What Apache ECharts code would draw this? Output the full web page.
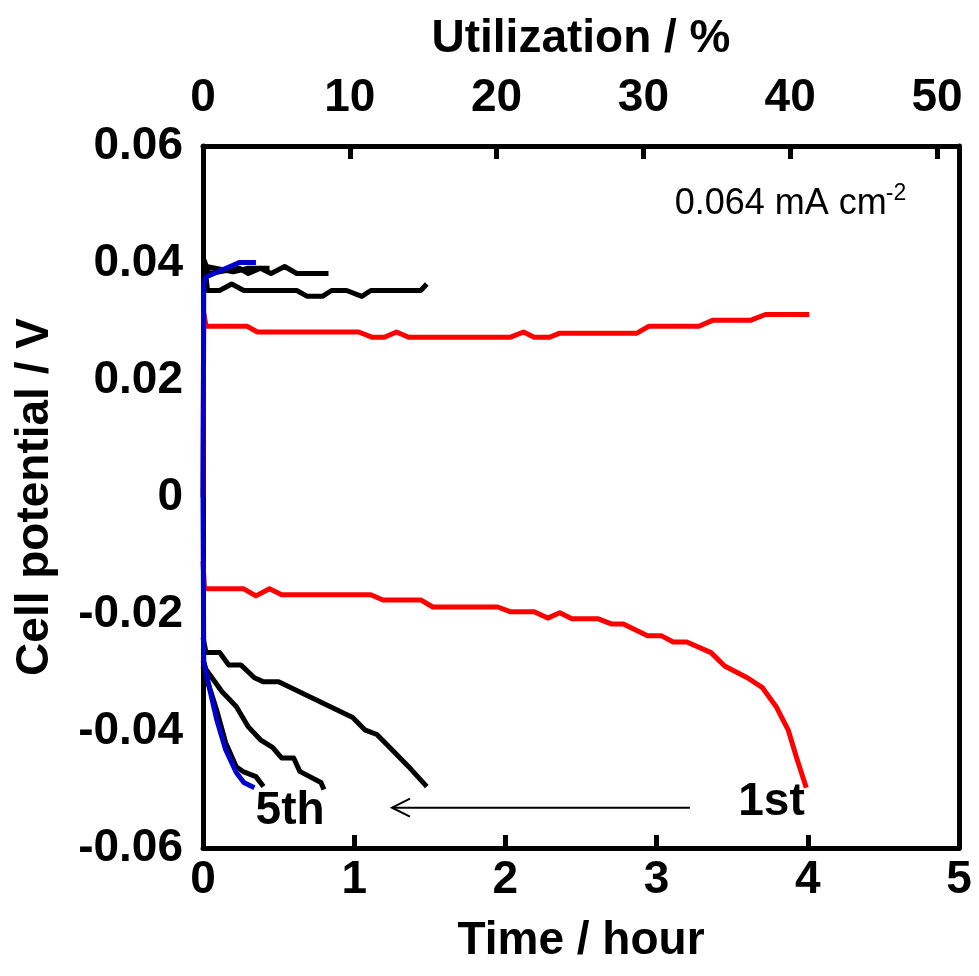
<!DOCTYPE html>
<html>
<head>
<meta charset="utf-8">
<script src="https://cdn.jsdelivr.net/npm/echarts@6/dist/echarts.min.js"></script>
<style>html,body{margin:0;padding:0;background:#fff;}#c{width:979px;height:976px;}</style>
</head>
<body>
<div id="c"></div>
<script>
// ---- data (time in hours, potential in V) ----
const timeTicks = [0, 1, 2, 3, 4, 5];
const utilTicks = [0, 10, 20, 30, 40, 50];
const potentialTicks = [-0.06, -0.04, -0.02, 0, 0.02, 0.04, 0.06];

const c1ChargeT = [0, 0.005, 0.02, 0.29, 0.36, 1.03, 1.12, 1.20, 1.28, 1.36, 2.03, 2.12, 2.19, 2.29, 2.36, 2.87, 2.95, 3.28, 3.37, 3.62, 3.72, 4.01];
const c1ChargeV = [0.0, 0.0315, 0.0292, 0.0292, 0.0282, 0.0282, 0.0273, 0.0273, 0.0282, 0.0273, 0.0273, 0.0282, 0.0273, 0.0273, 0.0280, 0.0280, 0.0292, 0.0292, 0.0302, 0.0302, 0.0312, 0.0312];
const c1DischT = [0, 0.01, 0.27, 0.35, 0.44, 0.52, 1.11, 1.19, 1.44, 1.52, 1.95, 2.03, 2.19, 2.28, 2.36, 2.44, 2.61, 2.70, 2.78, 2.94, 3.03, 3.11, 3.20, 3.36, 3.45, 3.60, 3.70, 3.79, 3.87, 3.93, 3.99];
const c1DischV = [-0.011, -0.0157, -0.0157, -0.0169, -0.0157, -0.0167, -0.0167, -0.0176, -0.0176, -0.0188, -0.0188, -0.0196, -0.0196, -0.0207, -0.0198, -0.0208, -0.0208, -0.0217, -0.0217, -0.0237, -0.0237, -0.0248, -0.0248, -0.0266, -0.0289, -0.0309, -0.0326, -0.0358, -0.0398, -0.0449, -0.0497];

const c2ChargeT = [0.007, 0.03, 0.11, 0.19, 0.27, 0.62, 0.69, 0.79, 0.85, 0.95, 1.05, 1.11, 1.44, 1.48];
const c2ChargeV = [0.0405, 0.0353, 0.0353, 0.0364, 0.0353, 0.0353, 0.0343, 0.0343, 0.0353, 0.0353, 0.0343, 0.0353, 0.0353, 0.0364];
const c2DischT = [0, 0.02, 0.11, 0.17, 0.25, 0.34, 0.40, 0.50, 0.99, 1.07, 1.15, 1.25, 1.36, 1.48];
const c2DischV = [-0.024, -0.0266, -0.0266, -0.0287, -0.0287, -0.0309, -0.0316, -0.0316, -0.0377, -0.0398, -0.0406, -0.0432, -0.0461, -0.0495];

const c3ChargeT = [0.007, 0.04, 0.24, 0.30, 0.38, 0.45, 0.54, 0.62, 0.83];
const c3ChargeV = [0.0405, 0.0382, 0.0391, 0.0382, 0.0391, 0.0382, 0.0394, 0.0382, 0.0382];
const c3DischT = [0, 0.02, 0.126, 0.22, 0.30, 0.38, 0.46, 0.52, 0.60, 0.64, 0.78, 0.80];
const c3DischV = [-0.028, -0.0295, -0.0333, -0.0358, -0.0393, -0.0415, -0.0428, -0.0446, -0.0446, -0.0469, -0.0488, -0.050];

const c4ChargeT = [0.005, 0.2, 0.3, 0.35, 0.44];
const c4ChargeV = [0.0395, 0.0385, 0.0391, 0.0391, 0.0391];
const c4DischT = [0, 0.09, 0.15, 0.22, 0.27, 0.35, 0.40];
const c4DischV = [-0.029, -0.0364, -0.042, -0.0461, -0.047, -0.0478, -0.0495];

const c5ChargeT = [0, 0.005, 0.02, 0.24, 0.35];
const c5ChargeV = [0, 0.0365, 0.0376, 0.0401, 0.0401];
const c5DischT = [0, 0.005, 0.04, 0.09, 0.15, 0.22, 0.27, 0.34];
const c5DischV = [0, -0.028, -0.0324, -0.038, -0.0432, -0.0471, -0.0488, -0.0497];

const zip = (a, b) => a.map((v, i) => [v, b[i]]);
const BOLD = "'Liberation Sans',Arial,sans-serif";
const PLAIN = "'Liberation Sans',Arial,sans-serif";

const chart = echarts.init(document.getElementById('c'), null, {renderer: 'canvas'});
function line(name, t, v, color) {
  return {name, type: 'line', data: zip(t, v), xAxisIndex: 0, yAxisIndex: 0,
    symbol: 'none', animation: false, lineStyle: {color, width: 5, join: 'round'}};
}
const axisTxt = {color: '#000', fontFamily: BOLD, fontWeight: 'bold', fontSize: 46};
const nameTxt = {color: '#000', fontFamily: BOLD, fontWeight: 'bold', fontSize: 46};
chart.setOption({
  backgroundColor: '#fff',
  animation: false,
  grid: {left: 203, right: 20, top: 146, bottom: 128, containLabel: false, outerBoundsMode: 'none'},
  xAxis: [
    {type: 'value', position: 'bottom', min: 0, max: 5, interval: 1,
     name: 'Time / hour', nameLocation: 'middle', nameGap: 70, nameMoveOverlap: false,
     nameTextStyle: nameTxt,
     axisLine: {show: true, onZero: false, lineStyle: {color: '#000', width: 5}},
     axisTick: {show: true, inside: true, length: 13, lineStyle: {color: '#000', width: 5}},
     axisLabel: Object.assign({margin: 9, customValues: timeTicks}, axisTxt),
     splitLine: {show: false}},
    {type: 'value', position: 'top', min: 0, max: 51.5,
     name: 'Utilization / %', nameLocation: 'middle', nameGap: 84, nameMoveOverlap: false,
     nameTextStyle: nameTxt,
     axisLine: {show: true, onZero: false, lineStyle: {color: '#000', width: 5}},
     axisTick: {show: true, inside: true, length: 13, customValues: utilTicks, lineStyle: {color: '#000', width: 5}},
     axisLabel: Object.assign({margin: 25, customValues: utilTicks}, axisTxt),
     splitLine: {show: false}}
  ],
  yAxis: [
    {type: 'value', position: 'left', min: -0.06, max: 0.06, interval: 0.02,
     name: 'Cell potential / V', nameLocation: 'middle', nameGap: 145, nameRotate: 90, nameMoveOverlap: false,
     nameTextStyle: nameTxt,
     axisLine: {show: true, onZero: false, lineStyle: {color: '#000', width: 5}},
     axisTick: {show: false},
     axisLabel: Object.assign({margin: 20, customValues: potentialTicks,
       formatter: v => Math.abs(v) < 1e-9 ? '0' : (Math.round(v * 100) / 100).toFixed(2)}, axisTxt),
     splitLine: {show: false}},
    {type: 'value', position: 'right', min: -0.06, max: 0.06,
     axisLine: {show: true, onZero: false, lineStyle: {color: '#000', width: 5}},
     axisTick: {show: false}, axisLabel: {show: false}, splitLine: {show: false}}
  ],
  series: [
    line('1st charge', c1ChargeT, c1ChargeV, '#ff0000'),
    line('1st discharge', c1DischT, c1DischV, '#ff0000'),
    line('2nd charge', c2ChargeT, c2ChargeV, '#000000'),
    line('2nd discharge', c2DischT, c2DischV, '#000000'),
    line('3rd charge', c3ChargeT, c3ChargeV, '#000000'),
    line('3rd discharge', c3DischT, c3DischV, '#000000'),
    line('4th charge', c4ChargeT, c4ChargeV, '#000000'),
    line('4th discharge', c4DischT, c4DischV, '#000000'),
    line('5th charge', c5ChargeT, c5ChargeV, '#0000cc'),
    line('5th discharge', c5DischT, c5DischV, '#0000cc')
  ]
});

// annotations placed through the axes' scales
const px = (t, v) => chart.convertToPixel({xAxisIndex: 0, yAxisIndex: 0}, [t, v]);
const aStart = px(3.22, -0.0531), aEnd = px(1.25, -0.0531);
const lab1 = px(3.76, -0.0522), lab5 = px(0.576, -0.0538);
const cur = px(3.12, 0.0500);
chart.setOption({
  graphic: [
    {type: 'line', shape: {x1: aStart[0], y1: aStart[1], x2: aEnd[0], y2: aEnd[1]}, style: {stroke: '#000', lineWidth: 2}},
    {type: 'polyline', shape: {points: [[aEnd[0] + 18, aEnd[1] - 9], [aEnd[0], aEnd[1]], [aEnd[0] + 18, aEnd[1] + 9]]}, style: {stroke: '#000', lineWidth: 2, fill: null}},
    {type: 'text', x: lab1[0], y: lab1[1], style: {text: '1st', fontFamily: BOLD, fontWeight: 'bold', fontSize: 46, fill: '#000', align: 'center', verticalAlign: 'middle'}},
    {type: 'text', x: lab5[0], y: lab5[1], style: {text: '5th', fontFamily: BOLD, fontWeight: 'bold', fontSize: 46, fill: '#000', align: 'center', verticalAlign: 'middle'}},
    {type: 'text', x: cur[0], y: cur[1], style: {text: '0.064 mA cm', fontFamily: PLAIN, fontSize: 36, fill: '#000', align: 'left', verticalAlign: 'middle'}},
    {type: 'text', x: cur[0] + 211, y: cur[1] - 11, style: {text: '-2', fontFamily: PLAIN, fontSize: 23, fill: '#000', align: 'left', verticalAlign: 'middle'}}
  ]
});
</script>
</body>
</html>
